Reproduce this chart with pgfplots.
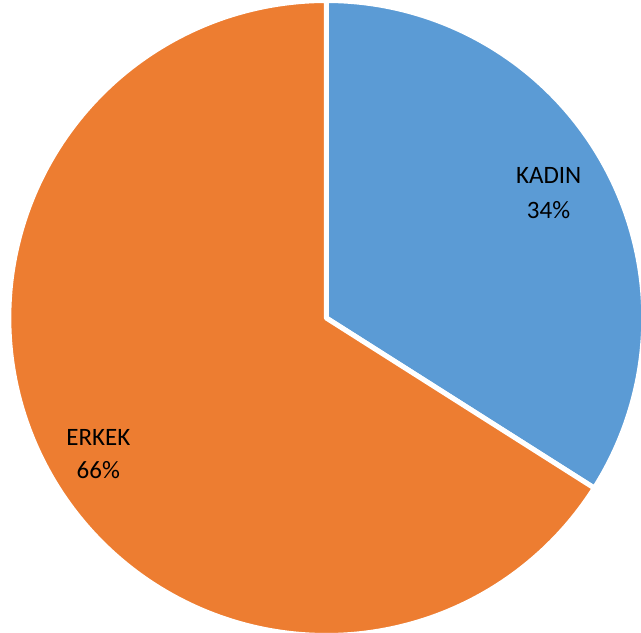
\documentclass[border=0pt]{standalone}
\usepackage{pgfplots}
\pgfplotsset{compat=1.18}
\usepackage{pgfplotstable}
\usepackage{fontspec}
\setmainfont{Carlito}
\definecolor{kadin}{HTML}{5B9BD5}
\definecolor{erkek}{HTML}{ED7D31}
\pgfplotstableread{
label value
KADIN 34
ERKEK 66
}\piedata
\begin{document}%
\begin{tikzpicture}
\pgfplotstablegetelem{0}{value}\of\piedata
\pgfmathsetmacro\va{\pgfplotsretval}
\pgfplotstablegetelem{1}{value}\of\piedata
\pgfmathsetmacro\vb{\pgfplotsretval}
\pgfmathsetmacro\aA{90-3.6*\va}
\pgfmathsetmacro\aB{\aA-3.6*\vb}
\begin{axis}[at={(326.3bp,315bp)}, anchor=origin,
  x=317.5bp, y=317.5bp, xmin=-1, xmax=1, ymin=-1, ymax=1,
  hide axis, clip=false]
\addplot[fill=kadin, draw=white, line width=5bp, line join=round,
  domain=90:\aA, samples=150] ({cos(x)},{sin(x)}) -- (axis cs:0,0) -- cycle;
\addplot[fill=erkek, draw=white, line width=5bp, line join=round,
  domain=\aA:\aB, samples=250] ({cos(x)},{sin(x)}) -- (axis cs:0,0) -- cycle;
\end{axis}
\begin{scope}[font=\fontsize{25bp}{30bp}\selectfont]
\node[anchor=base, inner sep=0pt] at (548.7bp,449.7bp) {KADIN};
\node[anchor=base, inner sep=0pt] at (548.5bp,414.7bp) {34\%};
\node[anchor=base, inner sep=0pt] at (98.3bp,187.3bp) {ERKEK};
\node[anchor=base, inner sep=0pt] at (98.3bp,154.7bp) {66\%};
\end{scope}
\pgfresetboundingbox
\path[use as bounding box] (0,0) rectangle (641bp,633bp);
\end{tikzpicture}%
\end{document}
